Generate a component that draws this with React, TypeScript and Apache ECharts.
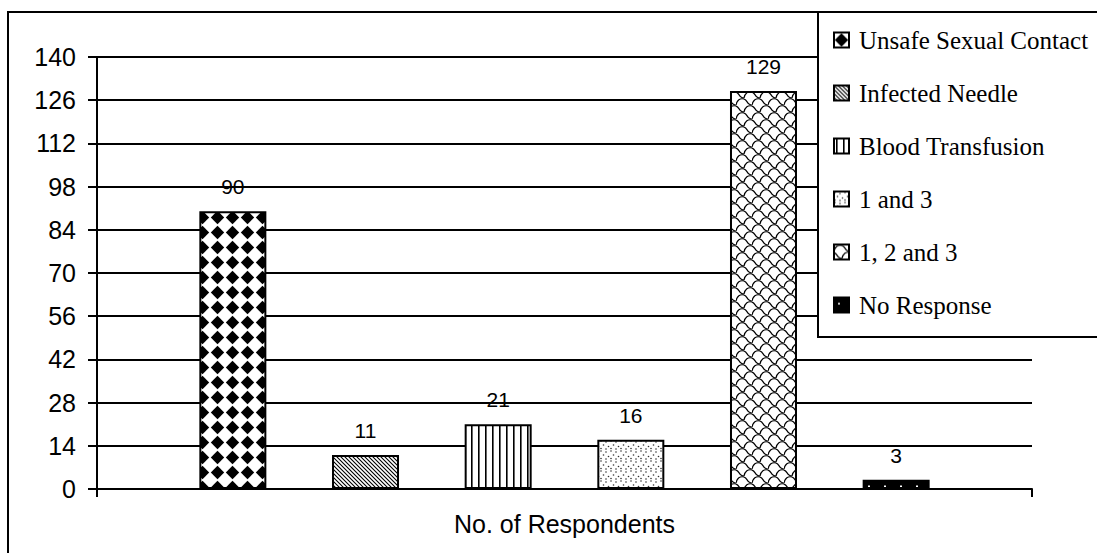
import React, { useEffect, useRef } from "react";
import * as echarts from "echarts";

// Category, series names and counts
const categories = ["No. of Respondents"];
const seriesNames = [
  "Unsafe Sexual Contact",
  "Infected Needle",
  "Blood Transfusion",
  "1 and 3",
  "1, 2 and 3",
  "No Response",
];
const respondents = [90, 11, 21, 16, 129, 3];
const yMin = 0;
const yMax = 140;
const yInterval = 14;

type Draw = (ctx: CanvasRenderingContext2D, w: number, h: number) => void;

// Build a repeating image fill from a small canvas tile
function makeTile(w: number, h: number, draw: Draw, bg = "#fff") {
  const c = document.createElement("canvas");
  c.width = w;
  c.height = h;
  const ctx = c.getContext("2d")!;
  ctx.fillStyle = bg;
  ctx.fillRect(0, 0, w, h);
  draw(ctx, w, h);
  return { image: c, repeat: "repeat", imageWidth: w, imageHeight: h } as any;
}

function buildFills() {
  // diamond checker
  const diamonds = makeTile(15, 15, (ctx) => {
    ctx.fillStyle = "#000";
    ctx.beginPath();
    ctx.moveTo(7.5, 0.8);
    ctx.lineTo(14.2, 7.5);
    ctx.lineTo(7.5, 14.2);
    ctx.lineTo(0.8, 7.5);
    ctx.closePath();
    ctx.fill();
  });
  // narrow downward diagonal hatch
  const hatch = makeTile(4, 4, (ctx) => {
    ctx.strokeStyle = "#000";
    ctx.lineWidth = 1.1;
    ctx.beginPath();
    ctx.moveTo(-1, -1);
    ctx.lineTo(5, 5);
    ctx.moveTo(-1, 3);
    ctx.lineTo(1, 5);
    ctx.moveTo(3, -1);
    ctx.lineTo(5, 1);
    ctx.stroke();
  });
  // vertical stripes
  const stripes = makeTile(7, 4, (ctx) => {
    ctx.fillStyle = "#000";
    ctx.fillRect(2, 0, 1.6, 4);
  });
  // sparse dots
  const dots = makeTile(10, 10, (ctx) => {
    ctx.fillStyle = "#333";
    const pts = [
      [1, 1],
      [6, 2],
      [3.5, 5],
      [8.5, 6.5],
      [1, 8.5],
      [6, 9],
    ];
    pts.forEach(([x, y]) => {
      ctx.beginPath();
      ctx.arc(x, y, 0.8, 0, Math.PI * 2);
      ctx.fill();
    });
  });
  // interlocking scales, two staggered rows per tile
  const scales = makeTile(16, 14, (ctx) => {
    ctx.strokeStyle = "#000";
    ctx.lineWidth = 1.2;
    const scale = (cx: number, top: number) => {
      ctx.beginPath();
      ctx.moveTo(cx - 8, top + 7);
      ctx.bezierCurveTo(cx - 7, top + 2, cx - 4, top, cx, top + 1);
      ctx.bezierCurveTo(cx + 3, top + 2, cx + 3, top + 5, cx + 5, top + 6);
      ctx.bezierCurveTo(cx + 6.5, top + 7, cx + 7.5, top + 7, cx + 8, top + 7);
      ctx.stroke();
    };
    scale(8, 0);
    scale(0, 7);
    scale(16, 7);
    scale(8, 14);
    scale(8, -14);
    scale(0, -7);
    scale(16, -7);
  });
  // black with small white specks
  const solid = makeTile(16, 16, (ctx) => {
    ctx.fillStyle = "#000";
    ctx.fillRect(0, 0, 16, 16);
    ctx.fillStyle = "#fff";
    ctx.fillRect(4, 5.5, 2, 1.5);
  });
  return [diamonds, hatch, stripes, dots, scales, solid];
}

export default function App() {
  const ref = useRef<HTMLDivElement>(null);

  useEffect(() => {
    if (!ref.current) return;
    const chart = echarts.init(ref.current, undefined, { renderer: "svg" });
    const fills = buildFills();
    const sans = "'Liberation Sans', Arial, sans-serif";
    const serif = "'Liberation Serif', 'Times New Roman', serif";
    const black = "#000";

    const option: any = {
      animation: false,
      backgroundColor: "#fff",
      textStyle: { fontFamily: sans },
      grid: {
        left: 97,
        right: 65,
        top: 57,
        bottom: 64,
        containLabel: false,
        outerBoundsMode: "none",
      },
      legend: {
        orient: "vertical",
        left: 833,
        top: 27,
        padding: 0,
        itemWidth: 15,
        itemHeight: 15,
        itemGap: 27,
        icon: "rect",
        z: 10,
        data: seriesNames,
        textStyle: {
          fontFamily: serif,
          fontSize: 25,
          color: black,
          lineHeight: 26,
          padding: [0, 0, 0, 5],
        },
      },
      xAxis: {
        type: "category",
        data: categories,
        axisLine: { show: true, lineStyle: { color: black, width: 2 } },
        axisTick: { show: true, length: 8, lineStyle: { color: black, width: 2 } },
        axisLabel: { color: black, fontSize: 25, margin: 22, fontFamily: sans },
        splitLine: { show: false },
      },
      yAxis: {
        type: "value",
        min: yMin,
        max: yMax,
        interval: yInterval,
        axisLine: { show: true, lineStyle: { color: black, width: 2 } },
        axisTick: { show: true, length: 9, lineStyle: { color: black, width: 2 } },
        axisLabel: { color: black, fontSize: 25, margin: 21, fontFamily: sans },
        splitLine: { show: true, lineStyle: { color: black, width: 2 } },
      },
      graphic: [
        {
          type: "rect",
          z: 1,
          shape: { x: 8, y: 12, width: 1200, height: 600 },
          style: { fill: "none", stroke: black, lineWidth: 2 },
          silent: true,
        },
        {
          type: "rect",
          z: 5,
          shape: { x: 818, y: 12, width: 300, height: 325 },
          style: { fill: "#fff", stroke: black, lineWidth: 2 },
          silent: true,
        },
      ],
      series: seriesNames.map((name, i) => ({
        type: "bar",
        name,
        data: [respondents[i]],
        barWidth: 67,
        barGap: "98%",
        itemStyle: { color: fills[i], borderColor: black, borderWidth: 2 },
        label: {
          show: true,
          position: "top",
          distance: 14,
          color: black,
          fontSize: 21,
          fontFamily: sans,
        },
      })),
    };

    chart.setOption(option);
    return () => chart.dispose();
  }, []);

  return (
    <div
      ref={ref}
      style={{ position: "fixed", left: 0, top: 0, width: 1097, height: 553 }}
    />
  );
}
